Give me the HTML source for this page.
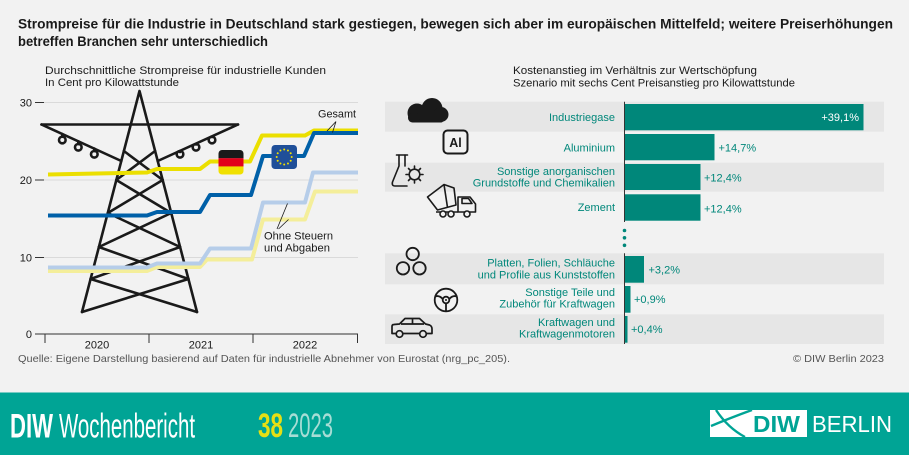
<!DOCTYPE html>
<html><head><meta charset="utf-8">
<style>
html,body{margin:0;padding:0;background:#f2f2f2;}
svg{display:block;}
text{font-family:"Liberation Sans",sans-serif;}
</style></head>
<body>
<svg width="909" height="455" viewBox="0 0 909 455" xmlns="http://www.w3.org/2000/svg">
<rect x="0" y="0" width="909" height="455" fill="#f2f2f2"/>

<!-- Title -->
<text x="18" y="28.5" font-size="13.5" font-weight="bold" fill="#1a1a1a" textLength="875" lengthAdjust="spacingAndGlyphs">Strompreise für die Industrie in Deutschland stark gestiegen, bewegen sich aber im europäischen Mittelfeld; weitere Preiserhöhungen</text>
<text x="18" y="46" font-size="13.5" font-weight="bold" fill="#1a1a1a" textLength="250" lengthAdjust="spacingAndGlyphs">betreffen Branchen sehr unterschiedlich</text>

<!-- Left subtitle -->
<text x="45" y="74" font-size="10.8" fill="#1a1a1a" textLength="281" lengthAdjust="spacingAndGlyphs">Durchschnittliche Strompreise für industrielle Kunden</text>
<text x="45" y="86" font-size="10.8" fill="#1a1a1a" textLength="134" lengthAdjust="spacingAndGlyphs">In Cent pro Kilowattstunde</text>

<!-- Grid -->
<g stroke="#dadada" stroke-width="1">
<line x1="44" y1="102.5" x2="358" y2="102.5"/>
<line x1="44" y1="180" x2="358" y2="180"/>
<line x1="44" y1="257.5" x2="358" y2="257.5"/>
</g>
<g stroke="#333" stroke-width="1">
<line x1="35" y1="102.5" x2="44" y2="102.5"/>
<line x1="35" y1="180" x2="44" y2="180"/>
<line x1="35" y1="257.5" x2="44" y2="257.5"/>
<line x1="35" y1="334" x2="44" y2="334"/>
<line x1="44" y1="334" x2="358" y2="334"/>
<line x1="45" y1="334" x2="45" y2="343"/>
<line x1="149" y1="334" x2="149" y2="343"/>
<line x1="253" y1="334" x2="253" y2="343"/>
<line x1="357.5" y1="334" x2="357.5" y2="343"/>
</g>
<g font-size="11" fill="#1a1a1a" text-anchor="end">
<text x="32" y="106.5">30</text>
<text x="32" y="184">20</text>
<text x="32" y="261.5">10</text>
<text x="32" y="338">0</text>
</g>
<g font-size="11" fill="#1a1a1a" text-anchor="middle">
<text x="97" y="348.5">2020</text>
<text x="201" y="348.5">2021</text>
<text x="305" y="348.5">2022</text>
</g>

<!-- Pylon -->
<g stroke="#1a1a1a" stroke-width="2.6" fill="none" stroke-linecap="round" stroke-linejoin="round">
<path d="M82,312 L139.5,91 L197,312"/>
<path d="M41.5,124.5 L238,124.5"/>
<path d="M41.5,124.5 L121.3,161 M238,124.5 L157.7,161"/>
<path d="M123.9,151 L162.7,180 M155.1,151 L116.3,180"/>
<path d="M116.3,180 L171.2,213 M162.7,180 L107.8,213"/>
<path d="M107.8,213 L180.1,247 M171.2,213 L98.9,247"/>
<path d="M98.9,247 L188.4,279 M180.1,247 L90.6,279"/>
<path d="M90.6,279 L197,312 M188.4,279 L82,312"/>
<path d="M62.3,134 L62.3,136.7 M78.3,141.3 L78.3,144 M94.3,148.6 L94.3,151 M180,152 L180,151 M196,144.5 L196,144 M212,137 L212,136.7"/>
<circle cx="62.3" cy="140" r="3.3"/>
<circle cx="78.3" cy="147.3" r="3.3"/>
<circle cx="94.3" cy="154.3" r="3.3"/>
<circle cx="180" cy="154.3" r="3.3"/>
<circle cx="196" cy="147.3" r="3.3"/>
<circle cx="212" cy="140" r="3.3"/>
</g>

<!-- Data lines -->
<g fill="none" stroke-width="4" stroke-linejoin="round">
<path stroke="#f4ee9a" d="M48,271 L147,271 L157,267 L200,267 L207,259.5 L252,259.5 L263,219.5 L305,219.5 L315,191.5 L358,191.5"/>
<path stroke="#b6cde9" d="M48,267.5 L147,267.5 L157,263.5 L200,263.5 L210,248.5 L251,248.5 L263,202.5 L305,202.5 L313,172.5 L358,172.5"/>
<path stroke="#ebdf00" d="M48,174.5 L97,173.5 L147,172.5 L157,169 L200,169 L210,161.5 L250,161.5 L262,135.5 L305,135.5 L314,130.5 L358,130.5"/>
<path stroke="#0060a8" d="M48,215.5 L147,215.5 L157,212 L200,212 L210,195 L251,195 L263,156 L304,156 L314,133 L358,133"/>
</g>

<!-- German flag -->
<defs>
<clipPath id="declip"><rect x="218.5" y="150" width="25" height="24.5" rx="3.5"/></clipPath>
</defs>
<g clip-path="url(#declip)">
<rect x="218.5" y="150" width="25" height="8.3" fill="#1a1a1a"/>
<rect x="218.5" y="158.2" width="25" height="8.3" fill="#e2001a"/>
<rect x="218.5" y="166.4" width="25" height="8.3" fill="#f0e000"/>
</g>
<!-- EU flag -->
<rect x="271.5" y="145" width="25.5" height="24" rx="3.5" fill="#1f4f99"/>
<g fill="#f3e100">
<circle cx="284.2" cy="149.5" r="1"/>
<circle cx="287.95" cy="150.5" r="1"/>
<circle cx="290.7" cy="153.25" r="1"/>
<circle cx="291.7" cy="157" r="1"/>
<circle cx="290.7" cy="160.75" r="1"/>
<circle cx="287.95" cy="163.5" r="1"/>
<circle cx="284.2" cy="164.5" r="1"/>
<circle cx="280.45" cy="163.5" r="1"/>
<circle cx="277.7" cy="160.75" r="1"/>
<circle cx="276.7" cy="157" r="1"/>
<circle cx="277.7" cy="153.25" r="1"/>
<circle cx="280.45" cy="150.5" r="1"/>
</g>

<!-- Annotations -->
<text x="318" y="117.5" font-size="11" fill="#1a1a1a" textLength="38" lengthAdjust="spacingAndGlyphs">Gesamt</text>
<g stroke="#1a1a1a" stroke-width="0.8" fill="none">
<path d="M336,121.5 L327,131 M336,121.5 L332.5,132.5"/>
<path d="M277,229 L287.5,203.5 M278.5,229 L288.5,219.5"/>
</g>
<text x="264" y="239.5" font-size="11" fill="#1a1a1a" textLength="69" lengthAdjust="spacingAndGlyphs">Ohne Steuern</text>
<text x="264" y="251.5" font-size="11" fill="#1a1a1a" textLength="66" lengthAdjust="spacingAndGlyphs">und Abgaben</text>

<!-- Right subtitle -->
<text x="513" y="74" font-size="10.8" fill="#1a1a1a" textLength="244" lengthAdjust="spacingAndGlyphs">Kostenanstieg im Verhältnis zur Wertschöpfung</text>
<text x="513" y="86.5" font-size="10.8" fill="#1a1a1a" textLength="282" lengthAdjust="spacingAndGlyphs">Szenario mit sechs Cent Preisanstieg pro Kilowattstunde</text>

<!-- Row backgrounds -->
<g fill="#e6e6e6">
<rect x="385" y="101.7" width="499" height="30"/>
<rect x="385" y="162.7" width="499" height="29"/>
<rect x="385" y="253.3" width="499" height="31"/>
<rect x="385" y="314.3" width="499" height="29.7"/>
</g>

<!-- Bars -->
<g fill="#00877a">
<rect x="625" y="104" width="238.5" height="26.3"/>
<rect x="625" y="134" width="89.5" height="26.3"/>
<rect x="625" y="164" width="75.5" height="26"/>
<rect x="625" y="194.3" width="75.5" height="26.4"/>
<rect x="625" y="256" width="19" height="26.7"/>
<rect x="625" y="286" width="5.5" height="26.7"/>
<rect x="625" y="316" width="2.5" height="26.7"/>
</g>
<g stroke="#333" stroke-width="1">
<line x1="624.5" y1="101.7" x2="624.5" y2="222"/>
<line x1="624.5" y1="253.3" x2="624.5" y2="344"/>
</g>
<g fill="#00877a">
<circle cx="624.5" cy="230.5" r="1.8"/>
<circle cx="624.5" cy="237.8" r="1.8"/>
<circle cx="624.5" cy="245.3" r="1.8"/>
</g>

<!-- Labels -->
<g font-size="11" fill="#00877a" text-anchor="end">
<text x="615" y="121">Industriegase</text>
<text x="615" y="151.5">Aluminium</text>
<text x="615" y="175">Sonstige anorganischen</text>
<text x="615" y="186.5">Grundstoffe und Chemikalien</text>
<text x="615" y="211">Zement</text>
<text x="615" y="266.7">Platten, Folien, Schläuche</text>
<text x="615" y="278.3">und Profile aus Kunststoffen</text>
<text x="615" y="296">Sonstige Teile und</text>
<text x="615" y="307.7">Zubehör für Kraftwagen</text>
<text x="615" y="326">Kraftwagen und</text>
<text x="615" y="337.3">Kraftwagenmotoren</text>
</g>
<text x="859" y="121" font-size="11" fill="#ffffff" text-anchor="end">+39,1%</text>
<g font-size="11" fill="#00877a">
<text x="718.5" y="151.5">+14,7%</text>
<text x="704" y="181.5">+12,4%</text>
<text x="704" y="212.5">+12,4%</text>
<text x="648.5" y="273.5">+3,2%</text>
<text x="634" y="303">+0,9%</text>
<text x="631" y="333">+0,4%</text>
</g>

<!-- Icons -->
<!-- cloud -->
<g fill="#1a1a1a">
<circle cx="417" cy="113" r="9.5"/>
<circle cx="432" cy="108.5" r="10.5"/>
<circle cx="441" cy="114.5" r="7.5"/>
<rect x="415" y="112" width="28" height="10.5" rx="2"/>
<rect x="408" y="113" width="12" height="9.5" rx="4.5"/>
</g>
<!-- Al box -->
<rect x="443.5" y="130.5" width="24" height="23" rx="4" fill="none" stroke="#1a1a1a" stroke-width="2"/>
<text x="455.5" y="147" font-size="12.5" font-weight="bold" fill="#1a1a1a" text-anchor="middle">Al</text>
<!-- flask + gear -->
<g fill="none" stroke="#1a1a1a" stroke-width="1.6" stroke-linecap="round" stroke-linejoin="round">
<path d="M396.5,155 L407.5,155"/>
<path d="M399,155 L399,166 L392.5,182 Q391.5,186 395,186 L407,186"/>
<path d="M405,155 L405,166"/>
<circle cx="414.5" cy="174.5" r="5.3"/>
<path d="M414.5,166 L414.5,168 M414.5,181 L414.5,183 M406,174.5 L408,174.5 M421,174.5 L423,174.5 M408.5,168.5 L410,170 M419,179 L420.5,180.5 M420.5,168.5 L419,170 M410,179 L408.5,180.5"/>
</g>
<!-- cement truck -->
<g fill="none" stroke="#1a1a1a" stroke-width="1.6" stroke-linejoin="round">
<path d="M427.5,197 L444,184.5 L454,188 L456,205 L437.5,210 Z"/>
<path d="M444,184.5 L447.5,207.5"/>
<path d="M458,197 L470,197 L475.5,204 L475.5,212 L458,212 Z"/>
<path d="M436,212 L458,212"/>
<path d="M462,198.5 L468.5,198.5 L472,203.5 L462,203.5 Z"/>
</g>
<g fill="#f2f2f2" stroke="#1a1a1a" stroke-width="1.6">
<circle cx="443" cy="214" r="3"/>
<circle cx="451" cy="214" r="3"/>
<circle cx="467" cy="214" r="3"/>
</g>
<!-- three circles -->
<g fill="none" stroke="#1a1a1a" stroke-width="1.8">
<circle cx="412.7" cy="254" r="6.2"/>
<circle cx="403" cy="268.3" r="6.2"/>
<circle cx="419.5" cy="268.3" r="6.2"/>
</g>
<!-- steering wheel -->
<g fill="none" stroke="#1a1a1a" stroke-width="1.8">
<circle cx="446" cy="300" r="11.3"/>
<circle cx="446" cy="300" r="3.3"/>
<path d="M442.8,299 Q439,295 435.2,296.5 M449.2,299 Q453,295 456.8,296.5 M446,303.3 L446,311"/>
</g>
<circle cx="446" cy="300" r="1" fill="#1a1a1a"/>
<!-- car -->
<g fill="none" stroke="#1a1a1a" stroke-width="1.7" stroke-linejoin="round">
<path d="M392,333.5 L392,326.5 Q392,324.5 394,324.5 L399.5,324 L405,318.5 L419.5,318.5 L425.5,324 L429.5,325 Q432,326 432,329 L432,333.5 Z"/>
<path d="M401,324 L424,324 M412.5,318.5 L412.5,324"/>
</g>
<g fill="#e6e6e6" stroke="#1a1a1a" stroke-width="1.7">
<circle cx="399.5" cy="334" r="3.3"/>
<circle cx="423" cy="334" r="3.3"/>
</g>

<!-- Source -->
<text x="18" y="362" font-size="10.5" fill="#555" textLength="492" lengthAdjust="spacingAndGlyphs">Quelle: Eigene Darstellung basierend auf Daten für industrielle Abnehmer von Eurostat (nrg_pc_205).</text>
<text x="884" y="362" font-size="10.5" fill="#555" text-anchor="end" textLength="91" lengthAdjust="spacingAndGlyphs">© DIW Berlin 2023</text>

<!-- Footer -->
<rect x="0" y="392.5" width="909" height="62.5" fill="#00a495"/>
<text x="10" y="437.5" font-size="34" font-weight="bold" fill="#ffffff" textLength="43" lengthAdjust="spacingAndGlyphs">DIW</text>
<text x="59" y="437.5" font-size="34" fill="#ffffff" textLength="136" lengthAdjust="spacingAndGlyphs">Wochenbericht</text>
<text x="258" y="437" font-size="34" font-weight="bold" fill="#e6df14" textLength="25" lengthAdjust="spacingAndGlyphs">38</text>
<text x="288" y="437" font-size="34" fill="#a6ddd5" textLength="45" lengthAdjust="spacingAndGlyphs">2023</text>
<!-- logo -->
<rect x="710" y="410" width="97" height="27" fill="#ffffff"/>
<g stroke="#00a495" stroke-width="2.4" fill="none" stroke-linecap="butt">
<path d="M711,426 Q730,418 752,410"/>
<path d="M716,410 Q728,428 745,437"/>
</g>
<text x="753" y="432" font-size="23" font-weight="bold" fill="#00a495" textLength="47" lengthAdjust="spacingAndGlyphs">DIW</text>
<text x="812" y="432" font-size="23" fill="#ffffff" textLength="80" lengthAdjust="spacingAndGlyphs">BERLIN</text>
</svg>
</body></html>
